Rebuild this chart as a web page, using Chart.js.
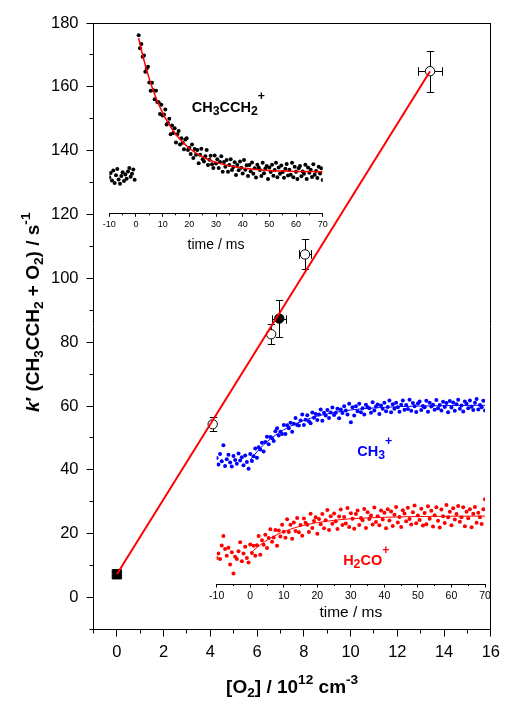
<!DOCTYPE html>
<html>
<head>
<meta charset="utf-8">
<script src="https://cdn.jsdelivr.net/npm/chart.js@4.4.1/dist/chart.umd.min.js"></script>
<style>
  html, body { margin: 0; padding: 0; background: #fff; }
  #wrap { position: relative; width: 506px; height: 702px; background: #fff; }
  #wrap canvas { position: absolute; }
</style>
</head>
<body>
<div id="wrap">
  <canvas id="main" width="506" height="702" style="left:0;top:0"></canvas>
  <canvas id="insetTop" width="240" height="240" style="left:100px;top:20px"></canvas>
  <canvas id="insetBottom" width="290" height="250" style="left:205px;top:375px"></canvas>
</div>
<script>
const FONT = "'Liberation Sans', Arial, Helvetica, sans-serif";

// ---- main plot: pseudo-first-order rate vs [O2] ----
const O2_TICKS = [0, 2, 4, 6, 8, 10, 12, 14, 16];
const O2_MINOR = [-1, 1, 3, 5, 7, 9, 11, 13, 15];
const K_TICKS = [0, 20, 40, 60, 80, 100, 120, 140, 160, 180];
const K_MINOR = [-10, 10, 30, 50, 70, 90, 110, 130, 150, 170];

const SQUARE_O2 = [0];
const SQUARE_K = [7.3];

const OPEN_O2 = [4.1, 6.6, 8.05, 13.4];
const OPEN_K = [54.3, 82.5, 107.5, 164.9];
const OPEN_O2_ERR = [0, 0, 0.27, 0.5];
const OPEN_K_ERR = [2.2, 3.2, 4.7, 6.4];

const FILLED_O2 = [6.95];
const FILLED_K = [87.4];
const FILLED_O2_ERR = [0.3];
const FILLED_K_ERR = [5.8];

const FIT_O2 = [0, 13.4];
const FIT_K = [7.3, 164.9];

// ---- ion signal traces (arb. units), sampled every 0.5 ms ----
const SAMPLE_STEP = 0.5;
const TIME_TICKS = [-10, 0, 10, 20, 30, 40, 50, 60, 70];
const TIME_MINOR = [-5, 5, 15, 25, 35, 45, 55, 65];

const PROPYNYL_PRE_START = -10;
const PROPYNYL_PRE = [19.2, 21.5, 17.4, 22.8, 16.1, 20.3, 23.6, 18.0, 15.7, 19.8,
  21.9, 17.2, 20.6, 18.4, 22.3, 24.1, 19.5, 21.0, 23.3, 17.9];
const PROPYNYL_POST_START = 1;
const PROPYNYL_POST = [
  94.7, 87.8, 90.1, 83.3, 84.0, 75.3, 76.9, 78.0, 69.6, 65.2,
  69.4, 65.5, 60.6, 65.2, 59.2, 59.1, 52.8, 57.8, 52.0, 52.6,
  55.2, 47.3, 48.0, 50.3, 42.0, 46.7, 42.7, 45.3, 37.6, 42.0,
  43.8, 36.6, 39.9, 37.5, 34.1, 39.2, 39.9, 33.7, 34.9, 31.6,
  36.6, 29.4, 34.2, 31.2, 33.7, 26.6, 31.2, 34.3, 28.7, 27.5,
  30.3, 33.7, 25.7, 28.5, 30.6, 26.1, 24.1, 30.7, 26.5, 28.8,
  24.1, 27.3, 30.4, 22.1, 27.3, 24.7, 28.4, 22.1, 25.7, 28.8,
  23.0, 24.6, 27.1, 20.4, 25.7, 22.9, 27.5, 24.2, 21.2, 28.4,
  23.2, 25.5, 19.9, 25.7, 22.4, 27.0, 21.0, 24.0, 19.1, 25.8,
  24.3, 23.0, 19.9, 26.9, 21.3, 23.8, 25.1, 18.3, 24.3, 22.0,
  25.8, 20.0, 23.0, 26.9, 19.2, 24.4, 21.1, 25.4, 22.0, 18.9,
  23.7, 26.2, 20.1, 23.1, 20.5, 26.9, 19.2, 24.7, 22.1, 18.2,
  23.9, 25.2, 19.7, 22.3, 21.1, 25.8, 18.3, 24.3, 21.6, 23.2,
  19.3, 26.1, 20.5, 22.5, 18.8, 24.8, 21.2, 24.0, 17.7];
const PROPYNYL_FIT_T = [1, 2, 3, 4, 5, 6, 7, 8, 10, 12, 14, 16, 18, 20, 22, 24, 26, 28, 30, 33, 36, 40, 45, 50, 55, 60, 65, 70];
const PROPYNYL_FIT_V = [93.2, 87.0, 81.4, 76.2, 71.5, 67.2, 63.3, 59.7, 53.4, 48.2, 43.8, 40.2, 37.2, 34.6, 32.5, 30.8, 29.3, 28.1, 27.1, 25.9, 25.0, 24.1, 23.3, 22.8, 22.5, 22.3, 22.2, 22.1];

const PRODUCT_START = -10;
const METHYL = [
  61.8, 58.6, 63.7, 60.2, 68.0, 57.9, 61.1, 63.4, 59.5, 57.6,
  62.7, 60.8, 58.9, 64.0, 60.5, 62.1, 58.2, 63.0, 59.8, 56.5,
  63.7, 60.3, 62.6, 66.4, 61.9, 67.0, 65.9, 69.3, 65.0, 69.6,
  72.2, 68.5, 72.0, 71.4, 70.1, 74.9, 76.4, 72.8, 74.6, 73.5,
  77.9, 73.5, 77.8, 76.3, 79.0, 74.6, 78.5, 81.4, 78.0, 77.7,
  80.2, 83.1, 78.0, 80.5, 82.7, 79.8, 78.8, 84.1, 81.5, 83.3,
  80.4, 83.1, 85.6, 80.0, 84.0, 82.6, 85.3, 81.4, 84.1, 86.5,
  82.8, 83.9, 85.9, 81.3, 85.6, 83.8, 87.1, 85.0, 83.1, 88.4,
  79.3, 86.6, 82.6, 87.1, 84.7, 88.3, 84.2, 86.2, 83.1, 87.9,
  86.7, 86.1, 84.0, 89.1, 85.0, 87.0, 88.0, 83.3, 87.5, 85.9,
  88.8, 84.7, 86.8, 89.9, 84.2, 88.1, 85.9, 88.8, 86.6, 84.4,
  87.9, 89.9, 85.4, 87.7, 85.8, 90.3, 84.9, 88.7, 87.1, 84.3,
  88.5, 89.4, 85.3, 87.2, 86.6, 89.8, 84.4, 88.9, 87.0, 87.9,
  85.4, 90.2, 86.1, 87.7, 85.1, 89.3, 86.8, 88.7, 84.2, 89.7,
  86.5, 89.0, 84.9, 88.1, 90.3, 85.9, 87.5, 84.6, 89.4, 88.4,
  86.2, 90.0, 86.9, 85.3, 88.8, 90.7, 85.6, 87.8, 86.6, 89.8,
  85.0];
const METHYL_FIT_T = [0, 2, 4, 6, 8, 10, 12, 14, 16, 18, 20, 23, 26, 30, 35, 40, 45, 50, 60, 70];
const METHYL_FIT_V = [60.8, 64.8, 68.2, 71.1, 73.5, 75.6, 77.4, 78.9, 80.2, 81.3, 82.3, 83.4, 84.3, 85.3, 86.1, 86.6, 87.0, 87.2, 87.5, 87.6];

const FORMYL = [
  12.8, 15.0, 12.3, 18.9, 23.5, 17.2, 13.9, 17.8, 9.5, 15.6,
  5.2, 13.4, 12.3, 16.1, 20.5, 11.2, 15.0, 18.3, 12.8, 10.6,
  19.4, 15.2, 18.7, 13.9, 19.0, 23.5, 14.3, 21.5, 19.3, 24.2,
  17.6, 22.5, 26.8, 20.7, 22.8, 26.5, 18.7, 26.2, 23.3, 29.1,
  25.6, 22.7, 31.8, 25.5, 29.1, 22.2, 30.1, 26.0, 32.3, 25.4,
  28.9, 23.6, 32.1, 30.0, 29.1, 25.5, 34.4, 27.4, 30.9, 32.7,
  24.6, 31.9, 29.3, 34.3, 27.3, 31.3, 36.3, 26.5, 33.2, 29.5,
  34.5, 30.8, 27.0, 33.1, 36.5, 28.9, 32.8, 29.6, 37.3, 28.0,
  34.7, 32.0, 27.1, 34.3, 36.0, 28.9, 32.3, 31.2, 36.8, 27.4,
  35.2, 31.9, 33.6, 29.2, 37.5, 30.4, 33.2, 28.8, 36.0, 31.6,
  34.9, 27.3, 36.6, 31.1, 35.6, 28.4, 34.0, 37.8, 30.1, 32.9,
  28.0, 36.2, 34.6, 30.8, 37.4, 31.9, 29.2, 35.2, 38.5, 29.8,
  33.6, 31.4, 36.9, 28.7, 34.8, 29.3, 38.1, 32.0, 35.9, 28.2,
  33.7, 37.6, 31.0, 27.7, 36.5, 33.2, 29.9, 38.7, 32.7, 35.4,
  28.8, 37.1, 31.6, 34.3, 38.2, 30.5, 32.7, 37.6, 28.3, 35.4,
  32.2, 36.6, 27.8, 34.4, 37.7, 30.0, 34.9, 32.7, 29.4, 36.6,
  41.5];
const FORMYL_FIT_T = [0, 2, 4, 6, 8, 10, 12, 14, 16, 18, 20, 23, 26, 30, 35, 40, 50, 60, 70];
const FORMYL_FIT_V = [15.0, 17.9, 20.4, 22.4, 24.2, 25.6, 26.9, 27.9, 28.8, 29.5, 30.1, 30.8, 31.4, 32.0, 32.4, 32.7, 33.1, 33.2, 33.3];

// ---- formatted labels: [text, kind] with kind '' normal, 'i' italic, 'b' subscript, 'p' superscript ----
const Y_TITLE = [['k', 'i'], ['\u2032', ''], [' (CH', ''], ['3', 'b'], ['CCH', ''], ['2', 'b'], [' + O', ''], ['2', 'b'], [') / s', ''], ['-1', 'p']];
const X_TITLE = [['[O', ''], ['2', 'b'], ['] / 10', ''], ['12', 'p'], [' cm', ''], ['-3', 'p']];
const LABEL_PROPYNYL = [['CH', ''], ['3', 'b'], ['CCH', ''], ['2', 'b'], ['+', 'p']];
const LABEL_METHYL = [['CH', ''], ['3', 'b'], ['+', 'p']];
const LABEL_FORMYL = [['H', ''], ['2', 'b'], ['CO', ''], ['+', 'p']];

// ---------------------------------------------------------------
const pairs = (xs, ys) => xs.map((x, i) => ({ x, y: ys[i] }));
const sampled = (start, vals) => vals.map((v, i) => ({ x: start + i * SAMPLE_STEP, y: v }));

function drawRich(ctx, segs, x, y, opt) {
  const size = opt.size, small = opt.small || 0.72;
  const subDy = opt.subDy != null ? opt.subDy : 0.22;
  const supDy = opt.supDy != null ? opt.supDy : 0.45;
  const fontOf = k => {
    const sz = (k === 'b' || k === 'p') ? size * small : size;
    return (k === 'i' ? 'italic ' : '') + 'bold ' + sz + 'px ' + FONT;
  };
  let total = 0;
  const widths = segs.map(([t, k]) => { ctx.font = fontOf(k); const w = ctx.measureText(t).width; total += w; return w; });
  let cx = opt.align === 'center' ? x - total / 2 : x;
  ctx.fillStyle = opt.color;
  ctx.textAlign = 'left';
  ctx.textBaseline = 'alphabetic';
  segs.forEach(([t, k], i) => {
    ctx.font = fontOf(k);
    const dy = k === 'b' ? subDy * size : (k === 'p' ? -supDy * size : 0);
    ctx.fillText(t, cx, y + dy);
    cx += widths[i];
  });
}

// linear axis whose tick positions come from a fixed list
function tickAxis(position, min, max, ticks, len, weight, labels, fontSize, pad) {
  return {
    type: 'linear', position, min, max, weight,
    afterBuildTicks: s => { s.ticks = ticks.map(v => ({ value: v })); },
    grid: { display: true, drawOnChartArea: false, drawTicks: true, tickLength: len, tickColor: '#000', tickWidth: 1 },
    border: { display: labels, color: '#000', width: 1 },
    ticks: {
      display: labels, autoSkip: false, maxRotation: 0, minRotation: 0, padding: pad || 0,
      color: '#000', font: { family: FONT, size: fontSize || 12 },
      callback: v => String(v)
    },
    title: { display: false }
  };
}

function frameAxis(position) {
  return {
    type: 'linear', position, min: 0, max: 1,
    grid: { display: false, drawTicks: false },
    border: { display: true, color: '#000', width: 1 },
    ticks: { display: false },
    afterFit: s => { if (position === 'top') s.height = 0; else s.width = 0; }
  };
}

const errorBars = {
  id: 'errorBars',
  beforeDatasetsDraw(chart) {
    const { ctx, scales: { x, y } } = chart;
    const CAP = 3.7;
    const groups = [
      [OPEN_O2, OPEN_K, OPEN_O2_ERR, OPEN_K_ERR],
      [FILLED_O2, FILLED_K, FILLED_O2_ERR, FILLED_K_ERR]
    ];
    ctx.save();
    ctx.strokeStyle = '#000';
    ctx.lineWidth = 1;
    const seg = (x1, y1, x2, y2) => { ctx.beginPath(); ctx.moveTo(x1, y1); ctx.lineTo(x2, y2); ctx.stroke(); };
    for (const [xs, ys, xe, ye] of groups) {
      xs.forEach((xv, i) => {
        const px = Math.round(x.getPixelForValue(xv)) + 0.5;
        const py = Math.round(y.getPixelForValue(ys[i])) + 0.5;
        if (ye[i] > 0) {
          const t = Math.round(y.getPixelForValue(ys[i] + ye[i])) + 0.5;
          const b = Math.round(y.getPixelForValue(ys[i] - ye[i])) + 0.5;
          seg(px, t, px, b); seg(px - CAP, t, px + CAP, t); seg(px - CAP, b, px + CAP, b);
        }
        if (xe[i] > 0) {
          const l = Math.round(x.getPixelForValue(xv - xe[i])) + 0.5;
          const r = Math.round(x.getPixelForValue(xv + xe[i])) + 0.5;
          seg(l, py, r, py); seg(l, py - CAP - 0.6, l, py + CAP + 0.6); seg(r, py - CAP - 0.6, r, py + CAP + 0.6);
        }
      });
    }
    ctx.restore();
  }
};

const axisTitles = {
  id: 'axisTitles',
  afterDraw(chart) {
    const { ctx, chartArea: a } = chart;
    const size = 19;
    ctx.save();
    ctx.translate(a.left - 61.5, (a.top + a.bottom) / 2 - 14);
    ctx.rotate(-Math.PI / 2);
    drawRich(ctx, Y_TITLE, 0, 0.36 * size, { size, color: '#000', align: 'center' });
    ctx.restore();
    ctx.save();
    drawRich(ctx, X_TITLE, (a.left + a.right) / 2, a.bottom + 63.3, { size, color: '#000', align: 'center' });
    ctx.restore();
  }
};

new Chart(document.getElementById('main'), {
  type: 'scatter',
  data: {
    datasets: [
      { label: 'linear fit', data: pairs(FIT_O2, FIT_K), showLine: true, borderColor: '#ff0000', borderWidth: 2, pointRadius: 0, fill: false },
      { label: 'open', data: pairs(OPEN_O2, OPEN_K), pointStyle: 'circle', pointRadius: 4.7, pointBackgroundColor: '#fff', pointBorderColor: '#000', pointBorderWidth: 1 },
      { label: 'filled', data: pairs(FILLED_O2, FILLED_K), pointStyle: 'circle', pointRadius: 4.7, pointBackgroundColor: '#000', pointBorderColor: '#000', pointBorderWidth: 1 },
      { label: 'zero', data: pairs(SQUARE_O2, SQUARE_K), pointStyle: 'rect', pointRadius: 6.6, pointBackgroundColor: '#000', pointBorderColor: '#000', pointBorderWidth: 1 }
    ]
  },
  options: {
    responsive: false, animation: false, devicePixelRatio: 1, events: [],
    layout: { autoPadding: false, padding: { left: 0, right: 13, top: 23, bottom: 0 } },
    plugins: { legend: { display: false }, tooltip: { enabled: false } },
    scales: {
      x: Object.assign(tickAxis('bottom', -1, 16, O2_TICKS, 7, 1, true, 16.5, 6), { afterFit: s => { s.height = 72.5; } }),
      xMinor: Object.assign(tickAxis('bottom', -1, 16, O2_MINOR, 4, 0, false), { afterFit: s => { s.height = 0; } }),
      xTop: frameAxis('top'),
      y: Object.assign(tickAxis('left', -10, 180, K_TICKS, 7, 1, true, 16.5, 8), { afterFit: s => { s.width = 93.5; } }),
      yMinor: Object.assign(tickAxis('left', -10, 180, K_MINOR, 4, 0, false), { afterFit: s => { s.width = 0; } }),
      yRight: frameAxis('right')
    }
  },
  plugins: [errorBars, axisTitles]
});

// ---- kinetic trace insets ----
function speciesLabels(items) {
  return {
    id: 'speciesLabels',
    afterDatasetsDraw(chart) {
      const { ctx, scales: { x, y } } = chart;
      ctx.save();
      for (const it of items) {
        drawRich(ctx, it.segs, x.getPixelForValue(it.t), y.getPixelForValue(it.v),
          { size: 14.5, color: it.color, small: 0.85, subDy: 0.22, supDy: 0.78 });
      }
      ctx.restore();
    }
  };
}

function insetChart(id, datasets, g, labels) {
  return new Chart(document.getElementById(id), {
    type: 'scatter',
    data: { datasets },
    options: {
      responsive: false, animation: false, devicePixelRatio: 1, events: [],
      layout: { autoPadding: false, padding: { left: g.left, right: g.right, top: g.top, bottom: 0 } },
      plugins: { legend: { display: false }, tooltip: { enabled: false } },
      scales: {
        x: Object.assign(tickAxis('bottom', -10, 70, TIME_TICKS, 3.5, 1, true, g.tickSize, g.tickPad), {
          afterFit: s => { s.height = g.axisHeight; },
          title: { display: true, text: 'time / ms', color: '#000', font: { family: FONT, size: g.titleSize }, padding: { top: 0, bottom: g.titlePad } }
        }),
        xMinor: Object.assign(tickAxis('bottom', -10, 70, TIME_MINOR, 2, 0, false), { afterFit: s => { s.height = 0; } }),
        y: { type: 'linear', display: false, min: 0, max: 100 }
      }
    },
    plugins: [speciesLabels(labels)]
  });
}

const dots = (data, color) => ({ data, pointRadius: 2, pointBackgroundColor: color, pointBorderWidth: 0, showLine: false });
const curve = (data, color, w) => ({ data, showLine: true, borderColor: color, borderWidth: w, pointRadius: 0, fill: false, cubicInterpolationMode: 'monotone' });

insetChart('insetTop', [
  curve(pairs(PROPYNYL_FIT_T, PROPYNYL_FIT_V), '#ff0000', 1.5),
  dots(sampled(PROPYNYL_PRE_START, PROPYNYL_PRE), '#000'),
  dots(sampled(PROPYNYL_POST_START, PROPYNYL_POST), '#000')
], { left: 9.3, right: 17.3, top: 5.3, axisHeight: 46.7, tickSize: 9, tickPad: 2, titleSize: 14, titlePad: 6.6 },
[{ segs: LABEL_PROPYNYL, t: 20.9, v: 54, color: '#000' }]);

insetChart('insetBottom', [
  curve(pairs(METHYL_FIT_T, METHYL_FIT_V), '#0000ff', 1),
  curve(pairs(FORMYL_FIT_T, FORMYL_FIT_V), '#ff0000', 1),
  dots(sampled(PRODUCT_START, METHYL), '#0000ff'),
  dots(sampled(PRODUCT_START, FORMYL), '#ff0000')
], { left: 11.7, right: 10, top: 5, axisHeight: 41, tickSize: 10.5, tickPad: 2.5, titleSize: 15.5, titlePad: 3 },
[{ segs: LABEL_METHYL, t: 31.9, v: 62.7, color: '#0000ff' },
 { segs: LABEL_FORMYL, t: 27.7, v: 9.3, color: '#ff0000' }]);
</script>
</body>
</html>
